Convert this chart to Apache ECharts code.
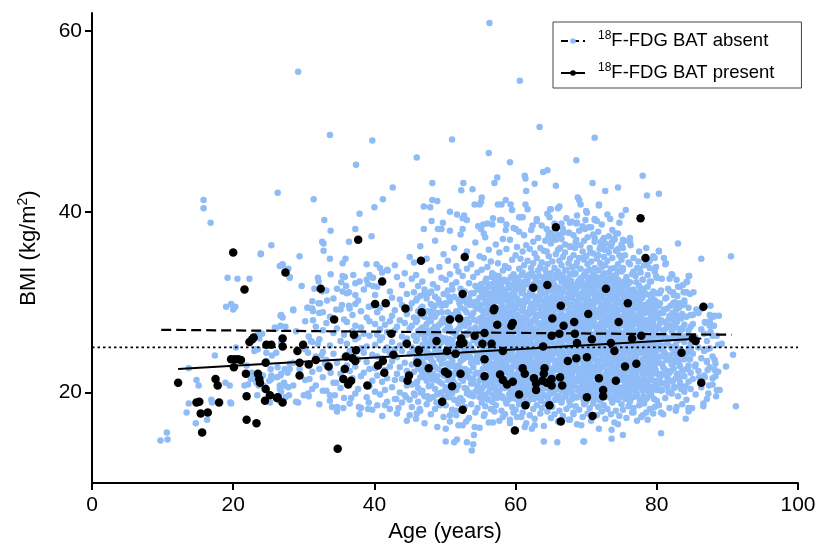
<!DOCTYPE html>
<html>
<head>
<meta charset="utf-8">
<script src="https://cdn.jsdelivr.net/npm/echarts@6/dist/echarts.min.js"></script>
<style>
  html, body { margin: 0; padding: 0; background: #fff; }
  #chart { width: 821px; height: 550px; }
</style>
</head>
<body>
<div id="chart"></div>
<script>
// BMI against age for patients with and without 18F-FDG detectable brown adipose tissue.
const FONT = '"Liberation Sans", Arial, Helvetica, sans-serif';
const BLUE = '#8fbcf6';

const ageTicks = [0, 20, 40, 60, 80, 100];
const bmiTicks = [20, 40, 60];

const absentName = '18F-FDG BAT absent';
const presentName = '18F-FDG BAT present';

// Linear fits (age, BMI) at the ends of each group's age range.
const absentFit = [[9.8, 26.95], [90.6, 26.4]];
const presentFit = [[12.2, 22.6], [86.3, 26.0]];
// Reference BMI of 25 kg/m2.
const referenceLine = [[0, 25], [100, 25]];

// BAT absent: sparse points read one by one (age, BMI).
const absentScattered = [
  [9.7,14.7],[10.6,15.6],[10.7,14.8],[13.4,17.8],[13.7,18.8],[14.7,16.6],[14.8,21.4],[15.1,20.8],[16.3,17.0],[16.9,19.2],
  [17.4,24.1],[18.9,21.1],[19.5,20.8],[19.7,18.8],[13.7,22.7],[19.0,29.5],[19.7,29.8],[20.3,29.5],[20.0,29.2],[20.4,25.0],
  [21.6,20.8],[17.0,18.9],[19.6,18.9],[21.9,23.0],[22.1,20.9],[22.8,21.5],[23.4,21.3],[23.6,20.8],[23.4,19.7],[25.1,21.3],
  [25.4,21.9],[26.6,20.8],[27.3,20.8],[26.8,20.1],[26.5,19.1],[27.4,19.5],[27.9,19.7],[28.5,20.8],[28.9,19.0],[27.7,22.2],
  [27.3,22.6],[24.7,24.4],[25.5,24.1],[23.5,24.8],[23.0,24.6],[28.5,23.3],[28.0,23.2],[25.3,22.6],[26.2,21.7],[26.7,21.9],
  [22.6,22.2],[23.2,24.8],[23.7,26.0],[24.1,26.5],[26.1,27.1],[26.7,27.4],[26.8,28.6],[28.5,29.1],[30.5,29.4],[31.3,29.0],
  [32.3,29.9],[32.7,28.9],[31.3,28.0],[34.6,29.2],[26.8,25.5],[26.1,24.4],[24.7,23.5],[26.3,22.8],[28.0,22.6],[26.8,22.1],
  [27.2,21.1],[27.8,20.6],[26.6,20.4],[25.4,21.5],[24.2,21.9],[25.2,18.9],[22.5,21.5],[23.3,21.1],[24.4,20.7],[29.4,22.6],
  [30.6,24.4],[31.0,25.7],[32.0,25.4],[32.5,24.1],[33.0,23.2],[33.8,22.2],[34.6,21.1],[34.4,19.7],[34.7,18.4],[34.0,18.4],
  [30.8,21.5],[30.6,19.9],[31.2,20.4],[30.0,19.7],[29.2,18.9],[32.7,20.2],[33.7,19.7],[23.9,35.4],[27.0,34.2],[26.6,34.0],
  [28.0,32.8],[19.2,32.7],[20.6,32.6],[22.3,32.6],[26.7,28.5],[27.0,28.3],[25.9,27.2],[27.4,27.3],[28.9,26.8],[23.5,26.5],
  [15.8,41.3],[15.8,40.4],[16.8,38.8],[26.3,42.1],[37.4,45.2],[31.4,41.4],[41.2,41.4],[40.0,40.5],[37.9,39.8],[32.9,39.1],
  [33.8,37.9],[37.3,38.1],[39.6,37.3],[36.4,36.7],[32.6,36.7],[32.8,36.5],[32.8,35.7],[25.4,36.3],[23.9,35.3],[29.4,35.1],
  [33.7,34.8],[35.9,34.8],[35.5,34.3],[27.0,34.1],[27.8,33.7],[28.0,32.7],[29.7,31.8],[32.0,32.7],[32.1,32.3],[31.5,31.5],
  [32.6,31.2],[33.3,30.2],[32.1,29.9],[33.8,33.1],[35.5,32.9],[35.8,32.8],[37.0,33.0],[35.3,32.2],[36.0,31.8],[35.5,31.2],
  [36.4,31.1],[37.3,30.8],[34.7,31.5],[37.9,32.3],[38.9,32.5],[39.8,32.7],[39.1,32.0],[39.8,31.8],[38.9,34.2],[40.3,34.2],
  [40.8,33.8],[41.9,33.5],[41.1,33.3],[35.4,29.7],[36.4,29.6],[37.3,29.8],[39.2,29.5],[30.6,29.4],[31.2,29.3],[28.5,29.2],
  [29.2,55.5],[56.3,60.9],[60.6,54.5],[63.4,49.4],[33.7,48.5],[39.7,47.9],[51.0,48.0],[46.0,46.0],[56.2,46.5],[71.2,48.2],
  [59.2,45.5],[68.6,45.7],[42.6,42.7],[48.2,43.2],[52.6,43.2],[52.3,42.4],[53.9,42.5],[57.0,43.2],[57.4,43.8],[61.3,44.0],
  [61.4,43.7],[62.7,43.1],[63.9,44.4],[64.5,44.6],[61.5,42.3],[65.7,42.9],[70.9,43.2],[72.7,42.3],[74.5,42.7],[68.8,41.6],
  [69.0,41.3],[78.0,44.0],[78.6,41.8],[80.3,42.0],
  [48.2,41.3],[48.9,41.2],[47.0,40.6],[47.9,40.5],[50.7,40.0],[51.7,39.7],[52.7,39.6],[52.5,39.3],[55.2,41.6],[55.1,41.1],
  [54.9,40.8],[54.2,40.8],[57.5,40.8],[58.0,40.8],[58.6,41.3],[59.3,40.8],[59.5,40.2],[61.4,40.8],[64.9,40.3],[66.0,40.4],
  [60.5,39.4],[61.0,39.4],[63.0,39.2],[64.8,39.4],[66.5,38.7],[67.7,38.8],[68.6,38.7],[69.9,39.1],[70.1,39.9],[71.8,40.7],
  [73.4,39.2],[75.0,39.6],[75.6,40.2],[47.0,38.1],[49.0,38.1],[49.5,38.1],[48.1,39.0],[49.7,38.8],[50.7,37.9],[52.5,38.1],
  [53.1,39.1],[54.7,38.4],[55.4,38.6],[56.0,38.7],[55.1,38.1],[55.5,37.6],[56.8,39.3],[57.8,39.1],[58.7,38.6],[58.6,38.0],
  [60.0,38.1],[62.4,38.5],[64.4,38.1],[65.1,37.6],[65.3,37.0],[66.7,37.7],[67.6,37.7],[68.6,36.9],[69.8,38.1],[70.4,38.3],
  [71.2,39.1],[69.2,40.8],[71.8,40.8],[65.0,40.3],[71.2,39.2],[68.7,38.8],[64.9,37.7],[64.6,37.1],[66.0,37.5],[71.2,37.1],
  [72.1,36.7],[72.4,36.9],[73.6,36.6],[74.5,37.6],[75.2,36.9],[76.2,37.1],[76.3,36.3],[75.2,36.0],[74.7,35.2],[67.7,36.1],
  [68.4,36.0],[66.3,36.0],[64.4,35.6],[69.6,34.9],[70.6,35.5],[71.9,35.9],[72.6,35.8],[75.4,36.8],[74.0,37.0],[73.6,36.5],
  [72.4,36.0],[73.0,35.8],[83.0,36.5],[86.3,34.8],[90.5,35.1],[80.3,35.7],[79.7,34.9],[81.0,34.9],[81.2,34.2],[82.2,33.0],
  [84.6,32.9],[84.3,32.3],[83.7,31.9],[84.1,31.1],[81.9,31.2],[82.9,30.7],[82.9,29.7],[83.7,29.7],[87.6,29.6],[80.3,35.6],
  [81.3,34.3],[79.0,33.8],[77.6,33.7],[76.7,33.4],[79.9,32.9],[82.1,33.1],[78.0,32.5],[77.1,32.2],[79.0,32.3],[80.7,32.6],
  [82.8,32.5],[84.2,32.2],[83.8,31.1],[83.3,31.7],[82.3,31.1],[81.6,31.5],[80.4,31.0],[79.9,33.9],[78.6,34.2],[77.4,34.5],
  [76.2,34.2],[75.2,33.8],[74.5,33.4],[75.7,32.5],[84.5,32.9],[84.7,30.9],[85.2,31.1],[82.8,29.6],[83.3,29.8],[82.3,29.9],
  [83.9,29.9],[86.4,29.3],[85.6,29.2],[85.0,28.6],[86.9,27.7],[87.5,28.6],[88.0,28.4],[88.8,28.5],[88.1,27.4],[87.5,27.4],
  [83.5,29.8],[85.1,28.6],[85.9,29.0],[88.2,28.5],[86.8,27.8],[87.8,27.4],[87.6,26.7],[88.5,26.3],[89.2,25.4],[87.1,24.8],
  [84.7,23.7],[85.4,22.9],[84.4,22.6],[84.2,24.3],[90.8,24.2],[91.2,18.5],[89.8,22.9],[88.2,23.6],[87.1,23.4],[87.2,22.5],
  [88.2,22.5],[87.9,21.6],[86.8,21.7],[86.0,21.7],[88.5,20.3],[88.9,20.3],[87.4,20.8],[87.3,19.9],[88.4,19.6],[86.6,18.8],
  [86.6,18.5],[84.1,20.7],[82.8,18.4],[84.5,18.3],[85.0,18.3],[84.1,17.1],[80.6,17.8],[80.6,15.5],[76.7,17.8],[77.8,17.3],
  [78.5,17.8],[75.2,15.3],[73.6,14.9],[74.5,16.5],[73.6,15.9],[71.8,16.0],[69.7,14.6],
  [53.8,13.6],[54.0,14.3],[54.1,15.3],[53.1,14.5],[51.7,14.8],[51.3,14.5],[50.1,14.6],[50.1,16.0],[51.9,16.4],[53.0,16.8],
  [54.2,16.2],[50.7,17.5],[51.6,18.0],[55.6,17.6],[56.8,16.7],[58.2,17.3],[59.2,16.6],[59.7,17.8],[60.8,17.3],[61.3,16.2],
  [62.3,16.0],[62.7,16.4],[64.0,14.6],[65.9,14.5],[69.6,14.6],[69.3,16.4],[67.7,17.0],[68.2,17.6],[35.6,18.3],[36.7,19.4],
  [37.9,17.6],[37.8,18.4],[39.1,18.2],[39.2,18.9],[41.5,18.6],[43.4,18.3],[45.0,17.5],[46.0,17.7],[46.4,18.2],[43.1,19.3],
  [44.5,19.5],[45.7,19.7],[47.8,19.3],[48.8,18.9],[49.3,18.6]
];

// BAT absent, dense part of the cloud: each row is [age, BMI, BMI, ...].
const absentColumns = [
  [30.2,21.4,24.8,27.9],[30.7,19.6,23.1,26.2],[31.2,22.3,25.6,30.1],[31.7,20.8,24.0,27.3],
  [32.2,18.7,22.6,25.9,28.8],[32.7,21.7,24.5,26.9],[33.2,20.2,23.6,27.7,31.3],[33.7,19.1,22.8,25.2,28.4],
  [34.2,21.1,24.3,26.6,30.4],[34.7,17.9,23.3,27.1],[35.2,20.5,22.1,25.7,29.2],[35.7,19.4,23.9,26.4,28.1],
  [36.1,20.9,23.0,25.4,27.8,31.0],[36.5,18.8,22.4,24.6,29.3],[36.9,21.6,24.1,26.8,28.6],[37.3,19.9,22.9,25.9,27.4,32.1],
  [37.7,20.4,23.7,26.1,30.2],[38.1,18.3,21.8,24.9,27.2,29.0],[38.5,22.2,24.4,26.5,31.4],[38.9,19.5,23.4,25.1,28.3],
  [39.3,20.7,22.6,26.3,27.9,33.0],[39.7,18.1,21.3,24.2,29.6],
  [40.1,20.1,22.7,25.3,27.6,30.8],[40.4,18.6,21.9,24.0,26.4,28.9,31.7],[40.8,19.8,23.2,25.8,27.0,29.4],
  [41.1,17.4,21.2,23.8,26.1,28.2,32.4],[41.5,20.3,22.5,24.7,27.5,30.0],[41.8,19.0,21.6,25.0,26.7,29.8,33.6],
  [42.2,18.2,22.9,24.4,27.9,31.2],[42.5,20.6,23.5,25.6,28.5,30.5],[42.9,19.3,21.4,24.8,26.9,29.1,34.1],
  [43.2,17.7,22.1,23.9,27.3,32.8],[43.6,20.0,22.8,25.2,28.0,30.3],[43.9,18.9,21.5,24.6,26.2,29.7,31.9],
  [44.3,19.7,23.3,25.5,27.7,33.2],[44.6,16.9,20.8,22.4,26.0,28.7,30.9],[45.0,19.2,21.9,24.3,27.1,29.3,35.0],
  [45.3,18.4,20.9,23.1,25.0,27.4,29.9,32.6],[45.6,19.9,22.3,24.5,26.3,28.3,31.1,34.4],[45.9,17.1,21.0,23.6,25.7,27.8,30.2,33.0],
  [46.2,19.0,20.5,22.7,24.9,26.8,29.0,31.8],[46.5,18.0,21.7,24.0,26.5,28.6,30.7,36.2],[46.8,20.2,22.0,23.4,25.3,27.2,29.5,32.3],
  [47.1,16.6,19.6,22.6,24.7,26.0,28.9,31.4],[47.4,18.7,21.3,23.9,25.6,27.6,30.4,34.8],[47.7,19.3,20.7,22.9,25.1,26.6,28.1,31.0],
  [48.0,17.6,21.5,24.2,26.2,27.9,29.8,33.5],[48.3,19.5,22.1,23.3,25.4,27.0,29.2,32.0],[48.6,18.2,20.4,22.8,24.6,26.4,28.4,30.6,36.8],
  [48.9,16.2,19.8,21.8,24.1,26.9,28.8,31.6],[49.2,18.9,21.2,23.7,25.2,27.5,30.0,33.9],[49.5,20.0,22.4,24.4,26.1,27.7,29.6,32.7],
  [49.8,17.3,19.4,21.9,23.8,25.8,28.2,30.9,35.3],
  [50.1,18.6,20.6,22.5,24.3,26.0,27.8,29.7,32.5],[50.4,19.7,21.4,23.2,25.5,27.3,28.9,31.3,34.6],
  [50.7,16.8,20.2,22.2,24.0,25.9,27.1,30.1,33.1],[51.0,18.1,19.9,21.7,23.6,25.2,26.7,28.6,31.9],
  [51.3,19.2,21.1,22.9,24.8,26.6,28.3,30.6,36.0],[51.6,17.5,20.3,22.4,24.5,26.3,29.0,32.2,34.0],
  [51.9,18.8,20.8,23.0,25.1,27.0,28.7,30.3,33.4],[52.2,19.4,21.6,23.5,25.7,27.6,29.4,31.5,37.5],
  [52.5,16.4,19.1,22.0,24.2,26.2,28.0,30.8,32.9],[52.8,18.4,20.5,22.6,24.7,25.6,27.4,29.2,31.2],
  [53.1,19.9,21.8,23.9,26.4,28.1,29.9,33.7,35.6],[53.4,17.2,20.0,22.3,24.1,25.3,27.7,30.4,32.1],
  [53.7,18.7,21.0,23.3,25.0,26.8,28.5,31.0,34.2],[54.0,19.6,21.5,22.8,24.6,26.5,28.8,30.0,32.8],
  [54.3,17.8,20.1,22.1,23.7,25.9,27.2,29.5,31.8,36.6],[54.6,18.3,20.7,23.4,25.4,27.9,29.3,31.4,33.3],
  [54.9,16.1,19.5,21.3,24.4,26.1,28.2,30.5,35.1],
  [55.2,18.9,20.4,22.2,23.8,25.6,27.3,29.1,31.1,33.6],[55.5,17.4,19.8,21.6,23.4,25.2,26.9,28.7,30.7,34.9],
  [55.7,18.5,20.9,22.7,24.2,26.3,28.1,30.0,32.3,37.2],[56.0,19.3,21.2,23.0,24.9,26.6,27.6,29.6,31.6,33.9],
  [56.2,16.7,20.0,21.9,23.6,25.5,27.4,28.9,30.9,35.8],[56.5,18.2,20.6,22.4,24.5,26.0,27.8,29.4,32.0,34.5],
  [56.7,19.0,21.4,23.2,25.1,26.8,28.6,30.3,33.2,38.6],[57.0,17.9,19.6,22.0,23.9,25.8,27.1,29.0,31.3,33.0],
  [57.2,18.6,20.3,22.6,24.4,26.2,28.3,30.1,31.9,36.4],[57.5,19.7,21.7,23.5,25.3,27.0,28.8,30.6,32.6,34.3],
  [57.7,16.9,20.2,22.1,24.0,25.7,27.5,29.3,31.5,35.5],[58.0,18.0,20.8,22.9,24.7,26.4,28.0,29.8,32.1,39.1],
  [58.2,19.4,21.1,23.3,25.0,26.7,28.5,30.4,33.5,37.0],[58.5,17.6,20.5,22.3,24.1,25.9,27.7,29.2,31.0,34.0],
  [58.7,18.8,21.5,23.1,24.8,26.5,28.2,30.2,32.4,35.9],[59.0,19.2,20.7,22.5,24.3,26.1,27.9,29.7,31.7,33.8],
  [59.2,17.0,19.9,21.8,23.7,25.4,27.2,28.9,30.8,36.9],[59.5,18.4,21.0,22.8,24.6,26.3,28.4,30.5,32.7,34.7],
  [59.7,19.6,21.3,23.4,25.5,27.3,29.1,31.2,33.1,38.2],[60.0,18.1,20.1,22.0,23.9,25.8,27.6,29.5,31.8,35.2],
  [60.2,17.3,19.5,21.4,23.2,25.0,26.8,28.6,30.4,32.6,36.1],[60.5,18.7,20.6,22.5,24.4,26.2,27.9,29.8,31.6,33.7,37.8],
  [60.7,19.1,21.0,22.9,24.7,26.5,28.3,30.1,32.2,34.8,39.4],[61.0,17.8,20.3,22.2,24.0,25.7,27.4,29.2,31.1,33.3,35.6],
  [61.2,18.5,20.9,22.7,24.5,26.4,28.1,30.0,31.9,34.1,37.4],[61.5,16.6,19.7,21.6,23.5,25.3,27.1,28.8,30.7,32.9,36.3],
  [61.7,18.9,21.2,23.0,24.9,26.7,28.5,30.3,32.5,34.6,40.3],[62.0,17.5,20.0,21.9,23.7,25.5,27.3,29.1,31.0,33.1,35.9],
  [62.2,19.3,20.7,22.4,24.2,26.0,27.8,29.6,31.4,33.8,38.0],[62.5,18.2,20.4,22.8,24.6,26.3,28.0,29.9,32.0,34.3,36.7],
  [62.7,17.1,19.8,21.7,23.4,25.2,27.0,28.7,30.6,32.8,35.4],[63.0,18.6,21.1,23.1,24.8,26.6,28.4,30.2,32.3,34.9,39.0],
  [63.2,19.5,21.4,23.3,25.1,26.9,28.6,30.5,32.1,33.5,37.1],[63.5,17.7,20.2,22.1,23.9,25.6,27.5,29.3,31.2,33.9,36.0],
  [63.7,18.3,20.8,22.6,24.3,26.1,27.7,29.5,31.5,34.4,38.5],[64.0,16.3,19.6,21.5,23.3,25.4,27.2,29.0,30.9,32.7,35.7],
  [64.2,18.8,20.5,22.3,24.1,25.9,27.9,29.7,31.7,33.6,36.8],[64.5,17.9,21.3,23.2,25.0,26.8,28.7,30.4,32.4,34.2,39.8],
  [64.7,19.0,20.9,22.7,24.6,26.4,28.2,30.0,31.8,35.1,37.6],[65.0,17.2,20.1,22.0,23.8,25.7,27.4,29.4,31.3,33.2,36.5],
  [65.2,18.4,20.3,22.2,23.9,25.6,27.2,28.9,30.6,32.2,34.5,37.3],[65.5,17.6,19.9,21.7,23.5,25.2,26.9,28.6,30.3,31.9,33.8,38.7],
  [65.7,19.2,21.0,22.8,24.5,26.2,27.8,29.5,31.2,33.0,35.3,36.9],[66.0,16.8,19.4,21.3,23.1,24.8,26.5,28.2,29.9,31.6,33.4,35.8],
  [66.2,18.0,20.6,22.5,24.2,25.9,27.6,29.3,31.0,32.7,34.6,40.6],[66.5,18.9,20.2,21.9,23.7,25.4,27.1,28.8,30.5,32.3,34.1,37.0],
  [66.7,17.4,20.8,22.6,24.4,26.1,27.7,29.4,31.1,32.9,35.0,38.1],[67.0,19.6,21.4,23.2,24.9,26.6,28.3,30.0,31.7,33.5,35.5,36.4],
  [67.2,18.2,19.8,21.6,23.3,25.0,26.8,28.5,30.2,31.8,33.6,39.3],[67.5,17.0,20.4,22.3,24.0,25.7,27.4,29.1,30.8,32.5,34.3,37.7],
  [67.7,18.6,21.1,22.9,24.6,26.3,28.0,29.7,31.4,33.1,34.8,36.2],[68.0,19.3,20.0,21.8,23.6,25.3,27.0,28.7,30.4,32.0,33.9,38.9],
  [68.2,17.8,20.7,22.4,24.3,26.0,27.9,29.6,31.3,33.3,35.2,37.4],[68.5,18.5,21.3,23.0,24.7,26.4,28.1,29.8,31.5,33.2,34.0,36.6],
  [68.7,16.5,19.5,21.5,23.4,25.1,26.7,28.4,30.1,31.9,34.4,39.6],[69.0,18.1,20.5,22.1,23.8,25.5,27.3,29.0,30.7,32.4,34.9,37.9],
  [69.2,19.7,21.2,22.7,24.5,26.2,27.5,29.2,30.9,32.6,33.7,36.3],[69.5,17.3,20.1,21.9,23.7,25.6,27.2,28.8,30.5,32.1,35.6,38.4],
  [69.7,18.7,20.9,22.6,24.2,25.8,27.7,29.5,31.2,33.0,34.7,36.8],[70.0,19.0,21.6,23.3,25.0,26.7,28.2,29.9,31.6,33.4,35.1,40.1],
  [70.2,17.7,20.3,22.0,23.9,25.4,27.1,28.9,30.6,32.2,34.2,37.2],[70.5,18.3,19.7,21.4,23.2,24.9,26.6,28.3,30.0,31.7,33.6,36.0],
  [70.7,16.9,20.6,22.5,24.4,26.1,27.8,29.4,31.1,32.8,34.5,38.3],[71.0,18.8,21.0,22.8,24.6,26.3,28.0,29.7,31.4,33.1,35.4,37.5],
  [71.2,19.4,20.4,22.2,24.0,25.7,27.4,29.1,30.8,32.5,33.8,36.7],[71.5,17.5,20.0,21.8,23.5,25.2,26.9,28.6,30.3,32.0,34.8,39.0],
  [71.7,18.4,21.5,23.1,24.8,26.5,28.4,30.1,31.8,33.5,35.2,37.8],[72.0,19.1,20.8,22.6,24.3,26.0,27.6,29.3,31.0,32.7,34.3,36.1],
  [72.2,17.9,20.2,21.9,23.7,25.5,27.2,28.9,30.6,32.3,33.9,38.6],[72.5,18.6,21.2,23.0,24.7,26.4,27.9,29.6,31.3,33.2,35.0,37.1],
  [72.7,17.1,19.6,21.6,23.4,25.1,26.8,28.5,30.2,31.9,34.1,36.5],[73.0,18.2,20.7,22.4,24.1,25.8,27.5,29.2,30.9,32.6,34.6,39.7],
  [73.2,19.5,21.3,23.2,24.9,26.6,28.3,30.0,31.7,33.3,35.5,37.3],[73.5,17.6,20.4,22.2,23.9,25.6,27.3,29.0,30.7,32.4,33.7,36.2],
  [73.7,18.9,20.9,22.7,24.5,26.2,27.8,29.5,31.2,32.9,34.9,38.0],[74.0,16.7,19.9,21.7,23.6,25.3,27.0,28.7,30.4,32.1,33.8,36.9],
  [74.2,18.0,21.1,22.9,24.6,26.3,28.1,29.8,31.5,33.0,35.7,37.6],[74.5,19.2,20.5,22.3,24.0,25.7,27.4,29.1,30.8,32.5,34.2,35.9],
  [74.7,17.4,20.1,21.8,23.3,25.0,26.7,28.4,30.1,31.8,33.5,38.8],[75.0,18.7,21.4,23.1,24.8,26.5,28.2,29.9,31.6,33.4,34.7,36.4],
  [75.2,18.1,20.6,22.3,24.1,25.8,27.5,29.2,31.0,33.6],[75.5,19.4,21.2,23.0,24.7,26.4,28.1,29.8,31.9,35.2],
  [75.7,17.2,20.0,21.8,23.6,25.3,27.0,28.7,30.5,32.8],[76.0,18.5,20.8,22.6,24.3,26.0,27.7,29.4,31.3,34.4],
  [76.2,19.0,21.5,23.3,25.0,26.7,28.4,30.1,32.2,36.6],[76.5,17.8,20.3,22.1,23.8,25.5,27.2,28.9,30.7,33.1],
  [76.7,18.3,21.0,22.8,24.5,26.2,27.9,29.6,31.4,34.9],[77.0,19.6,20.5,22.4,24.2,25.9,27.6,29.3,31.1,32.9],
  [77.2,16.9,19.8,21.6,23.4,25.1,26.8,28.5,30.3,33.8],[77.5,18.6,21.3,23.1,24.9,26.6,28.3,30.0,31.8,35.6],
  [77.7,19.2,20.7,22.5,24.4,26.1,27.8,29.5,31.2,33.3],[78.0,17.5,20.2,22.0,23.7,25.4,27.1,28.8,30.6,32.5],
  [78.2,18.8,21.1,22.9,24.6,26.3,28.0,29.7,31.5,34.1],[78.5,19.3,20.4,22.2,23.9,25.6,27.3,29.0,30.9,36.0],
  [78.7,17.0,20.9,22.7,24.5,26.2,27.9,29.6,31.7,33.0],[79.0,18.2,21.4,23.2,24.0,25.7,27.4,29.1,30.8,34.6],
  [79.2,19.7,20.1,21.9,23.5,25.2,26.9,28.6,30.4,32.3],[79.5,17.7,20.6,22.4,24.2,25.9,27.6,29.3,31.2,35.1],
  [79.7,18.4,21.2,23.0,24.8,26.5,28.2,29.9,30.2,33.4],[80.0,19.1,20.3,22.1,23.9,25.6,27.2,28.9,31.0,32.7],
  [80.3,18.6,21.4,23.3,25.2,27.1,29.6],[80.6,20.2,22.1,24.0,25.9,28.0,31.3],[80.9,17.6,21.0,22.8,24.7,26.6,28.8],
  [81.2,19.4,22.5,24.3,26.2,27.8,30.4],[81.5,20.7,21.7,23.6,25.5,27.4,29.3],[81.8,18.3,22.2,24.1,26.0,28.5,32.6],
  [82.1,19.9,21.3,23.1,24.9,26.8,28.2],[82.4,20.5,22.7,24.5,26.4,27.6,30.8],[82.7,18.0,21.6,23.4,25.3,27.2,29.1],
  [83.0,19.6,22.0,23.9,25.8,28.3,31.7],[83.3,20.9,21.1,22.9,24.8,26.7,29.9],[83.6,18.7,22.4,24.2,26.1,27.0,28.7],
  [83.9,20.1,21.8,23.7,25.6,27.5,30.2],[84.2,19.2,22.6,24.4,26.3,28.4,31.1],[84.5,17.9,21.2,23.0,24.9,26.9,29.4],
  [84.8,20.4,22.2,24.6,25.4,27.3,28.6],
  [85.1,21.5,24.3,27.6],[85.5,19.8,23.1,26.1],[85.9,22.4,25.0,28.8],[86.3,20.6,23.8,27.0],[86.7,21.9,24.6,26.5],
  [87.1,19.3,23.5,25.7],[87.5,22.8,24.9,27.9],[87.9,20.9,24.0,26.3],[88.3,21.8,23.2],[88.7,22.3,25.3]
];

// BAT absent, the most crowded band (ages 46-84, BMI about 19-33): same row layout.
const absentCoreColumns = [
  [46.05,21.2,23.8,25.9,28.0,30.4],[46.55,20.0,22.5,24.8,27.0,29.3],[47.05,21.7,23.1,26.4,28.4,30.9],
  [47.55,19.6,22.0,24.4,26.9,29.0],[48.05,20.8,23.6,25.6,28.6,31.2],[48.55,21.4,22.9,25.0,27.3,29.6],
  [49.05,19.9,22.6,24.9,26.6,30.3],[49.55,21.0,23.2,25.6,27.9,28.9],[50.05,20.3,21.9,24.6,26.9,29.9],
  [50.55,19.5,22.9,25.1,27.5,30.6],[51.05,21.5,23.4,25.8,28.2,31.4],[51.55,20.6,22.1,24.1,26.8,28.5],
  [52.05,19.3,22.8,25.0,27.1,29.9],[52.55,21.3,23.7,26.0,27.9,30.2],[53.05,20.4,22.5,24.5,26.6,28.9],
  [53.55,19.7,21.6,23.9,27.0,29.7],[54.05,21.0,23.5,25.8,28.1,31.0],[54.55,20.2,22.2,24.2,26.8,30.1],
  [55.1,19.9,21.8,24.0,25.9,27.8,29.7,32.0],[55.35,20.6,22.6,24.6,26.6,28.4,30.6,31.5],[55.6,19.5,21.3,23.3,25.4,27.5,29.0,31.1],
  [55.85,20.9,22.9,24.8,26.9,28.8,30.2,32.6],[56.1,19.2,21.6,23.8,25.8,27.9,30.0,31.9],[56.35,20.4,22.3,24.3,26.2,28.2,29.9,30.8],
  [56.6,21.0,23.0,25.0,27.1,28.9,31.0,32.8],[56.85,19.7,21.9,24.1,26.0,27.6,29.5,31.6],[57.1,20.7,22.8,24.9,26.8,28.7,30.6,32.3],
  [57.35,19.4,21.4,23.5,25.6,27.4,29.2,31.2],[57.6,20.1,22.3,24.4,26.4,28.3,30.4,32.9],[57.85,21.1,23.1,25.2,27.1,29.0,31.0,31.8],
  [58.1,19.6,21.7,23.8,25.7,27.5,29.5,31.5],[58.35,20.5,22.6,24.5,26.5,28.6,30.7,32.5],[58.6,19.1,21.2,23.6,25.3,27.2,29.0,31.3],
  [58.85,20.9,22.7,24.7,26.8,28.8,30.4,32.2],[59.1,19.8,21.9,23.9,25.8,27.7,29.6,31.6],[59.35,20.3,22.4,24.2,26.7,28.2,30.1,32.8],
  [59.6,19.4,21.5,23.6,25.6,27.9,29.8,31.9],[59.85,20.8,22.9,25.1,26.9,28.6,30.8,32.4],[60.1,19.3,21.3,23.5,25.5,27.3,29.3,31.4],
  [60.35,20.5,22.2,24.2,26.1,28.0,30.2,32.7],[60.6,19.9,21.8,23.8,25.9,27.8,29.9,31.8],[60.85,21.0,23.3,25.3,27.1,29.0,31.0,33.0],
  [61.1,19.5,21.5,23.4,25.4,27.6,29.6,31.5],[61.35,20.3,22.4,24.4,26.4,28.3,30.3,32.3],[61.6,19.0,21.9,23.9,25.8,27.9,30.1,32.0],
  [61.85,20.6,22.7,24.6,26.6,28.7,30.6,32.8],[62.1,19.6,21.6,23.6,25.6,27.6,29.4,31.2],[62.35,20.9,22.9,24.8,26.9,28.8,30.9,33.2],
  [62.6,19.3,21.2,23.3,25.2,27.1,29.2,31.6],[62.85,20.2,22.3,24.1,26.2,28.2,30.4,32.4],[63.1,19.8,21.7,23.7,25.7,27.7,29.8,31.8],
  [63.35,20.7,22.6,24.6,26.5,28.5,30.7,32.9],[63.6,19.1,21.0,23.1,25.1,27.0,29.1,31.0],[63.85,20.4,22.5,24.4,26.3,28.4,30.2,32.2],
  [64.1,19.7,21.8,23.9,25.9,27.8,29.7,31.7],[64.35,20.9,22.9,24.9,26.9,28.9,31.0,33.1],[64.6,19.4,21.4,23.5,25.5,27.5,29.3,31.4],
  [64.85,20.1,22.2,24.2,26.1,28.1,30.1,32.6],[65.1,19.9,21.9,23.9,25.8,27.9,29.9,31.9],[65.35,20.6,22.7,24.6,26.6,28.6,30.6,32.5],
  [65.6,19.2,21.2,23.3,25.2,27.3,29.2,31.3],[65.85,20.4,22.5,24.4,26.4,28.3,30.4,32.8],[66.1,19.6,21.6,23.6,25.7,27.7,29.6,31.6],
  [66.35,20.8,22.8,24.8,26.8,28.7,30.8,33.0],[66.6,19.3,21.3,23.4,25.3,27.3,29.3,31.4],[66.85,20.2,22.2,24.1,26.2,28.2,30.1,32.2],
  [67.1,19.8,21.9,23.8,25.9,27.8,29.9,31.9],[67.35,20.7,22.6,24.7,26.6,28.5,30.5,32.6],[67.6,19.1,21.1,23.2,25.2,27.1,29.1,31.1],
  [67.85,20.5,22.4,24.5,26.4,28.4,30.4,32.4],[68.1,19.7,21.7,23.7,25.6,27.6,29.7,31.7],[68.35,20.9,22.9,24.9,26.9,28.9,30.9,33.1],
  [68.6,19.5,21.4,23.4,25.4,27.4,29.4,31.5],[68.85,20.3,22.3,24.3,26.2,28.2,30.2,32.3],[69.1,19.9,21.8,23.9,25.8,27.9,29.8,31.8],
  [69.35,20.6,22.7,24.6,26.7,28.6,30.7,32.7],[69.6,19.2,21.2,23.2,25.1,27.2,29.2,31.2],[69.85,20.4,22.4,24.4,26.3,28.3,30.3,32.9],
  [70.1,19.6,21.6,23.6,25.7,27.6,29.6,31.6],[70.35,20.8,22.8,24.8,26.8,28.8,30.8,32.5],[70.6,19.4,21.4,23.3,25.3,27.3,29.4,31.3],
  [70.85,20.1,22.1,24.2,26.1,28.1,30.1,32.1],[71.1,19.8,21.9,23.8,25.9,27.8,29.9,31.9],[71.35,20.6,22.6,24.6,26.5,28.6,30.5,32.8],
  [71.6,19.3,21.2,23.2,25.2,27.2,29.1,31.1],[71.85,20.5,22.5,24.5,26.4,28.4,30.4,32.4],[72.1,19.7,21.7,23.7,25.7,27.7,29.7,31.7],
  [72.35,20.9,22.9,24.9,26.9,28.9,30.9,32.9],[72.6,19.5,21.5,23.5,25.5,27.4,29.4,31.4],[72.85,20.2,22.2,24.2,26.2,28.2,30.2,32.2],
  [73.1,19.9,21.8,23.9,25.8,27.9,29.8,31.8],[73.35,20.7,22.7,24.7,26.6,28.7,30.6,32.6],[73.6,19.2,21.3,23.3,25.3,27.1,29.3,31.3],
  [73.85,20.4,22.4,24.3,26.4,28.3,30.3,32.7],[74.1,19.6,21.6,23.6,25.6,27.6,29.6,31.6],[74.35,20.8,22.8,24.8,26.8,28.8,30.7,32.5],
  [74.6,19.4,21.4,23.4,25.3,27.3,29.2,31.2],[74.85,20.1,22.1,24.1,26.1,28.1,30.1,32.0],[75.1,19.8,21.8,23.8,25.9,27.8,29.8,31.5],
  [75.35,20.6,22.6,24.6,26.6,28.6,30.5,32.3],[75.6,19.3,21.3,23.3,25.2,27.2,29.2,31.0],[75.85,20.5,22.5,24.5,26.4,28.4,30.3,31.8],
  [76.1,19.7,21.7,23.7,25.7,27.7,29.7],[76.35,20.9,22.9,24.9,26.9,28.9,30.8],[76.6,19.5,21.5,23.5,25.5,27.5,29.4],
  [76.85,20.2,22.2,24.2,26.2,28.2,30.2],[77.1,19.9,21.9,23.9,25.9,27.9,29.9],[77.35,20.7,22.7,24.7,26.7,28.6,30.6],
  [77.6,19.2,21.2,23.2,25.2,27.2,29.2],[77.85,20.4,22.4,24.4,26.4,28.4,30.4],[78.1,19.6,21.6,23.6,25.6,27.6,29.5],
  [78.35,20.8,22.8,24.8,26.8,28.8,30.9],[78.6,19.4,21.4,23.4,25.4,27.4,29.4],[78.85,20.1,22.1,24.1,26.1,28.1,30.0],
  [79.1,19.8,21.8,23.8,25.8,27.8,29.7],[79.35,20.6,22.6,24.6,26.6,28.5,30.5],[79.6,19.3,21.3,23.3,25.3,27.3,29.3],
  [79.85,20.5,22.5,24.5,26.5,28.5,30.1],
  [80.15,20.8,23.9,26.3,28.4],[80.45,21.6,24.8,27.7,29.9],[80.75,20.3,23.2,25.2,28.9],[81.05,22.0,24.5,26.9,29.2],
  [81.35,21.1,23.7,27.2,30.5],[81.65,20.1,24.0,25.9,28.1],[81.95,22.4,25.1,27.4,29.6],[82.25,21.2,23.6,26.5,28.8],
  [82.55,20.6,24.3,26.0,30.0],[82.85,22.1,24.9,27.8,28.5],[83.15,21.5,23.4,26.2,29.4],[83.45,20.4,24.7,27.1,28.2]
];

// BAT present (age, BMI).
const presentPoints = [
  [12.2,21.1],[14.8,18.9],[15.2,19.0],[15.4,17.7],[15.6,15.6],[16.4,17.8],[17.5,21.5],[17.8,20.8],[18.0,18.9],[19.7,23.7],
  [20.2,23.7],[20.7,23.7],[21.1,23.6],[20.1,22.8],[21.8,22.1],[21.9,19.6],[21.9,17.0],[23.3,16.6],[22.3,25.6],[22.7,25.9],
  [22.9,26.1],[23.5,22.1],[23.7,21.5],[23.8,21.1],[24.6,20.4],[25.2,19.7],[24.5,19.1],[26.3,19.5],[24.7,25.3],[25.4,25.3],
  [27.0,26.0],[27.0,25.1],[26.2,19.4],[27.0,18.9],[24.6,23.3],[29.1,24.6],[29.9,25.3],[29.4,21.9],[29.4,23.3],[30.7,23.1],
  [31.7,23.6],[33.5,22.9],[34.3,28.1],[34.8,13.8],[20.0,35.5],[21.6,31.4],[27.4,33.3],[32.4,31.5],[37.7,36.9],[41.1,32.3],
  [40.1,29.8],[41.6,29.9],[44.4,29.3],[46.7,28.9],[50.7,28.1],[52.0,28.2],[56.9,29.1],[57.4,27.5],[59.4,27.4],[59.6,27.7],
  [65.2,28.2],[66.4,29.6],[66.8,27.4],[68.3,27.8],[70.3,28.7],[42.4,26.5],[37.1,26.4],[44.6,25.4],[48.8,25.7],[52.3,26.0],
  [52.6,25.5],[52.1,25.4],[54.2,26.3],[55.6,26.6],[55.3,25.4],[56.6,25.4],[37.4,24.7],[36.0,24.0],[36.9,23.8],[37.3,23.5],
  [35.8,22.6],[35.6,21.5],[36.3,20.9],[36.7,21.3],[39.0,20.8],[40.5,23.0],[41.2,23.5],[41.4,22.2],[42.7,24.2],[46.1,23.3],
  [46.3,24.7],[47.7,22.7],[44.9,21.9],[44.7,21.3],[50.0,22.3],[50.4,22.1],[52.2,22.1],[51.0,20.7],[50.3,24.6],[51.5,24.3],
  [55.6,23.7],[55.6,21.8],[58.2,24.6],[57.8,22.0],[58.2,21.4],[58.8,20.9],[59.6,21.2],[60.5,19.8],[61.0,22.7],[61.3,22.1],
  [62.6,21.6],[62.9,21.0],[62.9,20.3],[63.8,21.3],[64.1,22.7],[64.0,22.1],[65.1,21.5],[65.1,20.8],[66.3,21.7],[66.6,20.8],
  [63.9,25.1],[65.1,26.3],[66.2,26.5],[68.4,26.5],[68.7,25.5],[67.4,23.5],[68.6,23.8],[70.1,19.5],[64.8,18.6],[61.4,18.6],
  [59.9,15.8],[66.4,16.8],[52.5,18.1],[49.6,19.0],[64.4,21.1],[75.9,29.9],[86.6,29.5],[74.6,27.8],[70.8,25.9],[73.5,25.5],
  [74.0,24.6],[76.5,26.0],[77.8,26.3],[85.1,26.0],[85.5,25.7],[83.5,24.4],[70.1,23.9],[75.5,22.9],[77.1,23.2],[71.8,21.6],
  [74.2,21.3],[72.4,20.3],[72.4,19.6],[86.3,21.1],[70.9,17.4],[46.6,34.6],[52.8,35.0],[52.5,30.9],[62.5,31.6],[64.5,31.9],
  [72.8,31.5],[57.0,29.3],[65.7,38.3],[77.7,39.3],[78.4,34.9]
];

const absentPoints = absentScattered.slice();
absentColumns.concat(absentCoreColumns).forEach(function (row) {
  for (let i = 1; i < row.length; i++) absentPoints.push([row[0], row[i]]);
});

const chart = echarts.init(document.getElementById('chart'), null, { renderer: 'canvas' });

const axisTextStyle = { color: '#000', fontFamily: FONT, fontSize: 21 };

chart.setOption({
  animation: false,
  backgroundColor: '#fff',
  textStyle: { fontFamily: FONT },
  grid: { left: 92, right: 23, top: 13, bottom: 67, outerBoundsMode: 'none' },
  legend: {
    orient: 'vertical',
    left: 553,
    top: 22,
    padding: [8, 27, 4, 7],
    itemGap: 10,
    itemWidth: 24,
    itemHeight: 7,
    borderColor: '#444',
    borderWidth: 1,
    borderRadius: 0,
    backgroundColor: '#fff',
    selectedMode: false,
    data: [
      { name: absentName, lineStyle: { type: [7, 4], width: 2, color: '#000' } },
      { name: presentName, lineStyle: { type: 'solid', width: 2, color: '#000' } }
    ],
    formatter: function (name) { return name.replace(/^18/, '{sup|18}'); },
    textStyle: {
      color: '#000', fontFamily: FONT, fontSize: 18.5, lineHeight: 22,
      rich: { sup: { fontFamily: FONT, fontSize: 12, lineHeight: 14, verticalAlign: 'top', color: '#000', padding: [0, 0, 0, 8] } }
    }
  },
  xAxis: {
    type: 'value',
    min: 0, max: 100, interval: 20,
    name: 'Age (years)',
    nameLocation: 'middle',
    nameGap: 33,
    nameTextStyle: { color: '#000', fontFamily: FONT, fontSize: 22 },
    axisLine: { onZero: false, lineStyle: { color: '#000', width: 2 } },
    axisTick: { show: true, length: 7, lineStyle: { color: '#000', width: 2 } },
    axisLabel: Object.assign({ margin: 12 }, axisTextStyle),
    splitLine: { show: false }
  },
  yAxis: {
    type: 'value',
    min: 10, max: 62,
    name: 'BMI (kg/m{sup|2})',
    nameLocation: 'middle',
    nameGap: 50,
    nameTextStyle: {
      color: '#000', fontFamily: FONT, fontSize: 22, lineHeight: 26,
      rich: { sup: { fontFamily: FONT, fontSize: 14, lineHeight: 16, verticalAlign: 'top', color: '#000' } }
    },
    axisLine: { show: true, onZero: false, lineStyle: { color: '#000', width: 2 } },
    axisTick: { show: true, length: 7, customValues: bmiTicks, lineStyle: { color: '#000', width: 2 } },
    axisLabel: Object.assign({ margin: 10, customValues: bmiTicks }, axisTextStyle),
    splitLine: { show: false }
  },
  series: [
    {
      name: absentName, type: 'line', data: absentFit, z: 3,
      symbol: 'circle', showSymbol: false, silent: true,
      itemStyle: { color: BLUE },
      lineStyle: { color: '#000', width: 2.2, type: [10, 5] }
    },
    {
      name: presentName, type: 'line', data: presentFit, z: 3,
      symbol: 'circle', showSymbol: false, silent: true,
      itemStyle: { color: '#000' },
      lineStyle: { color: '#000', width: 2 }
    },
    {
      type: 'line', data: referenceLine, z: 3,
      symbol: 'none', silent: true,
      lineStyle: { color: '#000', width: 1.8, type: [2.5, 3] }
    },
    {
      name: absentName, type: 'scatter', data: absentPoints, z: 2,
      symbol: 'circle', symbolSize: 6.5, large: false, progressive: 0,
      itemStyle: { color: BLUE, opacity: 1 }
    },
    {
      name: presentName, type: 'scatter', data: presentPoints, z: 4,
      symbol: 'circle', symbolSize: 8.5,
      itemStyle: { color: '#000', opacity: 1 }
    }
  ]
});
</script>
</body>
</html>
